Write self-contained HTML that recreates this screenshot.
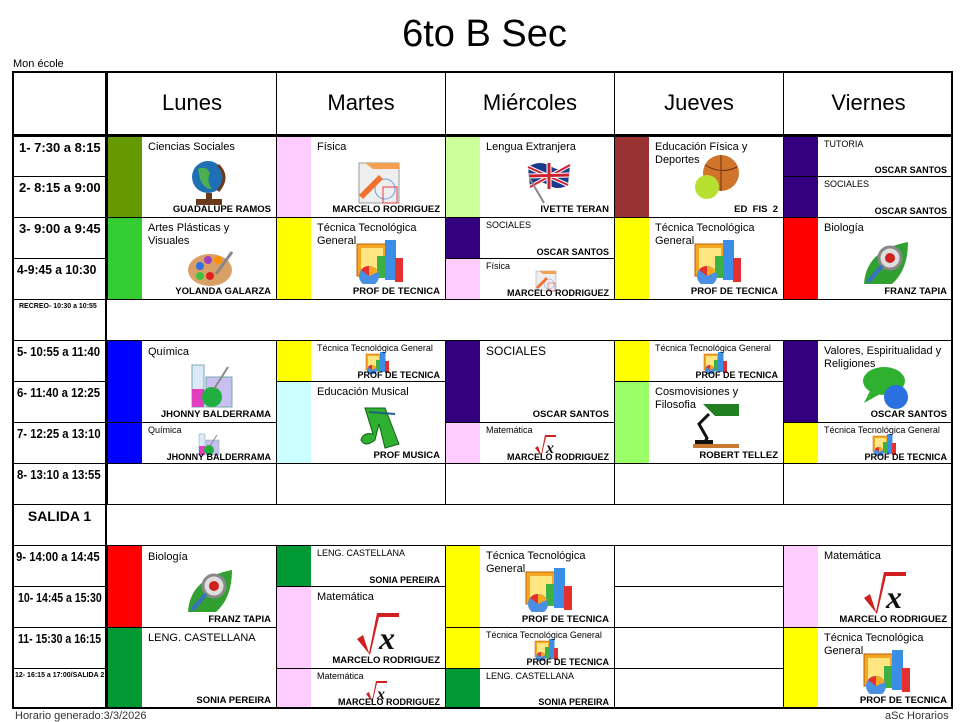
<!DOCTYPE html>
<html><head><meta charset="utf-8">
<style>
body{margin:0;width:969px;height:715px;background:#fff;position:relative;overflow:hidden;font-family:"Liberation Sans",Arial,sans-serif;color:#000}
.a{position:absolute}
.b{position:absolute;border:1px solid #000;box-sizing:border-box;background:#fff;overflow:hidden}
.bar{position:absolute;left:0;top:0;bottom:0;width:34px}
.t{position:absolute;left:40px;top:4px;font-size:11px;line-height:13px;right:4px;z-index:1}
.n{position:absolute;right:5px;bottom:2px;font-size:9.5px;font-weight:bold;white-space:nowrap;z-index:2}
.ic{position:absolute;left:78px;top:22px;width:48px;height:46px}
.s .t{font-size:9px;top:2px;line-height:11px}
.s .n{font-size:9px;bottom:1px}
.s .ic{left:88px;top:10px;width:24px;height:23px}
.tm{position:absolute;left:12px;width:95px;box-sizing:border-box;border-top:1px solid #000;font-weight:bold;font-size:13px;padding:3px 0 0 7px;white-space:nowrap;overflow:hidden}
.tm span{display:inline-block;transform-origin:left center}
.day{position:absolute;top:72px;height:64px;line-height:62px;text-align:center;font-size:22px;border-left:1px solid #000;box-sizing:border-box}
</style></head><body>
<svg width="0" height="0" style="position:absolute">
<defs>
<symbol id="chart" viewBox="0 0 48 46"><rect x="2" y="6" width="30" height="32" fill="#f5a623" stroke="#b86000"/><rect x="6" y="10" width="22" height="24" fill="#ffe680"/><rect x="22" y="18" width="9" height="22" fill="#3cb043"/><rect x="30" y="2" width="11" height="40" fill="#3a8ee6"/><rect x="40" y="20" width="8" height="24" fill="#e53030"/><circle cx="14" cy="38" r="10" fill="#4a90e2"/><path d="M14 38 L14 28 A10 10 0 0 1 23 34 Z" fill="#f5a623"/><path d="M14 38 L6 32 A10 10 0 0 1 14 28 Z" fill="#e53030"/></symbol>
<symbol id="globe" viewBox="0 0 48 46"><circle cx="22" cy="18" r="16" fill="#1f6fb5"/><path d="M12 10 Q20 6 24 14 Q20 22 26 30 Q18 30 14 20 Z" fill="#4caf50"/><path d="M32 6 Q44 18 32 32" stroke="#6b3a1a" stroke-width="3" fill="none"/><rect x="20" y="34" width="6" height="6" fill="#6b3a1a"/><rect x="10" y="40" width="26" height="6" fill="#6b3a1a"/></symbol>
<symbol id="phys" viewBox="0 0 48 46"><rect x="4" y="4" width="40" height="40" fill="#eee" stroke="#999"/><path d="M10 4 L44 4 L44 10 L18 10 Z" fill="#f5a050"/><circle cx="30" cy="30" r="10" fill="none" stroke="#6aa0e0"/><rect x="28" y="28" width="14" height="16" fill="none" stroke="#e04040"/><path d="M4 36 L24 16 L28 20 L8 40 Z" fill="#f07030"/></symbol>
<symbol id="pal" viewBox="0 0 48 46"><ellipse cx="24" cy="26" rx="22" ry="16" fill="#d9a066"/><circle cx="14" cy="22" r="4" fill="#3070e0"/><circle cx="22" cy="16" r="4" fill="#a040c0"/><circle cx="32" cy="16" r="4" fill="#ff9000"/><circle cx="14" cy="32" r="4" fill="#40c040"/><circle cx="24" cy="32" r="4" fill="#e02020"/><path d="M30 30 L46 8" stroke="#888" stroke-width="3"/></symbol>
<symbol id="flask" viewBox="0 0 48 46"><rect x="6" y="2" width="12" height="42" fill="#dde8f8" stroke="#7aa"/><rect x="6" y="26" width="12" height="18" fill="#e040c0"/><rect x="20" y="14" width="26" height="30" fill="#c8c0f0" stroke="#7aa"/><circle cx="26" cy="34" r="10" fill="#20b040"/><path d="M28 26 L42 4" stroke="#888" stroke-width="2"/></symbol>
<symbol id="bio" viewBox="0 0 48 46"><path d="M2 44 Q4 10 46 2 Q46 30 30 44 Z" fill="#30a030"/><circle cx="28" cy="18" r="11" fill="#ddd" stroke="#888" stroke-width="3"/><circle cx="28" cy="18" r="5" fill="#d02020"/><path d="M20 26 L6 42" stroke="#3a70c0" stroke-width="4"/></symbol>
<symbol id="flag" viewBox="0 0 48 46"><path d="M4 8 Q16 0 28 8 Q38 14 46 6 L44 26 Q34 32 24 26 Q14 20 6 28 Z" fill="#1a3a8a"/><path d="M4 8 L44 26 M46 6 L6 28" stroke="#fff" stroke-width="4"/><path d="M4 8 L44 26 M46 6 L6 28" stroke="#d02030" stroke-width="2"/><path d="M25 4 L25 30 M5 17 L45 16" stroke="#fff" stroke-width="5"/><path d="M25 4 L25 30 M5 17 L45 16" stroke="#d02030" stroke-width="3"/><path d="M6 20 L20 44" stroke="#888" stroke-width="2"/></symbol>
<symbol id="ball" viewBox="0 0 48 46"><circle cx="28" cy="18" r="18" fill="#d0742c"/><path d="M12 10 Q28 20 44 12 M28 0 L28 36" stroke="#6b3010" fill="none"/><circle cx="14" cy="32" r="12" fill="#b8e030"/></symbol>
<symbol id="math" viewBox="0 0 48 46"><path d="M2 30 L8 26 L14 44 L22 4 L44 4 L44 8 L24 8 L15 46 Z" fill="#d02020"/><text x="24" y="40" font-family="Liberation Serif,serif" font-style="italic" font-weight="bold" font-size="32" fill="#111">x</text></symbol>
<symbol id="music" viewBox="0 0 48 46"><path d="M10 4 L30 4 L44 40 L30 44 L24 20 L20 36 Q10 44 6 36 Q8 28 18 30 Z" fill="#30b030" stroke="#106010"/><path d="M14 8 L40 10" stroke="#206080" stroke-width="2"/></symbol>
<symbol id="lamp" viewBox="0 0 48 46"><path d="M10 2 L46 2 L46 14 L22 14 Z" fill="#208020"/><path d="M16 12 L6 22 L14 36 L12 40" stroke="#111" stroke-width="3" fill="none"/><rect x="2" y="38" width="18" height="4" fill="#111"/><rect x="0" y="42" width="46" height="4" fill="#c87830"/></symbol>
<symbol id="chat" viewBox="0 0 48 46"><ellipse cx="22" cy="16" rx="21" ry="14" fill="#30b030"/><path d="M8 26 L2 38 L20 28 Z" fill="#30b030"/><circle cx="34" cy="32" r="12" fill="#2a70e0"/></symbol>
</defs></svg>

<div class="a" style="left:0;top:12px;width:969px;text-align:center;font-size:38px;line-height:44px">6to B Sec</div>
<div class="a" style="left:13px;top:58px;font-size:11px">Mon école</div>

<div class="day" style="left:107px;width:169px">Lunes</div>
<div class="day" style="left:276px;width:169px">Martes</div>
<div class="day" style="left:445px;width:169px">Miércoles</div>
<div class="day" style="left:614px;width:169px">Jueves</div>
<div class="day" style="left:783px;width:170px">Viernes</div>

<div class="tm" style="top:136px;height:40px"><span>1- 7:30 a 8:15</span></div>
<div class="tm" style="top:176px;height:41px"><span>2- 8:15 a 9:00</span></div>
<div class="tm" style="top:217px;height:41px"><span>3- 9:00 a 9:45</span></div>
<div class="tm" style="top:258px;height:41px;padding-left:5px"><span style="transform:scaleX(.93)">4-9:45 a 10:30</span></div>
<div class="tm" style="top:299px;height:41px;font-size:7px;padding-top:3px;padding-left:7px">RECREO- 10:30 a 10:55</div>
<div class="tm" style="top:340px;height:41px;padding-left:5px"><span style="transform:scaleX(.87)">5- 10:55 a 11:40</span></div>
<div class="tm" style="top:381px;height:41px;padding-left:5px"><span style="transform:scaleX(.87)">6- 11:40 a 12:25</span></div>
<div class="tm" style="top:422px;height:41px;padding-left:5px"><span style="transform:scaleX(.87)">7- 12:25 a 13:10</span></div>
<div class="tm" style="top:463px;height:41px;padding-left:5px"><span style="transform:scaleX(.87)">8- 13:10 a 13:55</span></div>
<div class="tm" style="top:504px;height:41px;font-size:14px;text-align:center;padding-left:0">SALIDA 1</div>
<div class="tm" style="top:545px;height:41px;padding-left:4px"><span style="transform:scaleX(.87)">9- 14:00 a 14:45</span></div>
<div class="tm" style="top:586px;height:41px;padding-left:6px"><span style="transform:scaleX(.81)">10- 14:45 a 15:30</span></div>
<div class="tm" style="top:627px;height:41px;padding-left:6px"><span style="transform:scaleX(.81)">11- 15:30 a 16:15</span></div>
<div class="tm" style="top:668px;height:41px;font-size:7px;padding-left:3px">12- 16:15 a 17:00/SALIDA 2</div>

<div class="b" style="left:106px;top:299px;width:847px;height:42px"></div>
<div class="b" style="left:106px;top:504px;width:847px;height:42px"></div>

<!-- LUNES -->
<div class="b" style="left:107px;top:136px;width:170px;height:82px"><div class="bar" style="background:#669900"></div><div class="t">Ciencias Sociales</div><svg class="ic"><use href="#globe"/></svg><div class="n">GUADALUPE RAMOS</div></div>
<div class="b" style="left:107px;top:217px;width:170px;height:83px"><div class="bar" style="background:#33cc33"></div><div class="t">Artes Plásticas y<br>Visuales</div><svg class="ic" style="top:26px"><use href="#pal"/></svg><div class="n">YOLANDA GALARZA</div></div>
<div class="b" style="left:107px;top:340px;width:170px;height:83px"><div class="bar" style="background:#0000ff"></div><div class="t" style="top:5px">Química</div><svg class="ic"><use href="#flask"/></svg><div class="n">JHONNY BALDERRAMA</div></div>
<div class="b s" style="left:107px;top:422px;width:170px;height:42px"><div class="bar" style="background:#0000ff"></div><div class="t">Química</div><svg class="ic"><use href="#flask"/></svg><div class="n">JHONNY BALDERRAMA</div></div>
<div class="b" style="left:107px;top:463px;width:170px;height:42px"></div>
<div class="b" style="left:107px;top:545px;width:170px;height:83px"><div class="bar" style="background:#ff0000"></div><div class="t" style="top:5px">Biología</div><svg class="ic"><use href="#bio"/></svg><div class="n">FRANZ TAPIA</div></div>
<div class="b" style="left:107px;top:627px;width:170px;height:82px"><div class="bar" style="background:#009933"></div><div class="t" style="top:4px">LENG. CASTELLANA</div><div class="n">SONIA PEREIRA</div></div>

<!-- MARTES -->
<div class="b" style="left:276px;top:136px;width:170px;height:82px"><div class="bar" style="background:#ffccff"></div><div class="t">Física</div><svg class="ic"><use href="#phys"/></svg><div class="n">MARCELO RODRIGUEZ</div></div>
<div class="b" style="left:276px;top:217px;width:170px;height:83px"><div class="bar" style="background:#ffff00"></div><div class="t">Técnica Tecnológica<br>General</div><svg class="ic" style="top:20px"><use href="#chart"/></svg><div class="n">PROF DE TECNICA</div></div>
<div class="b s" style="left:276px;top:340px;width:170px;height:42px"><div class="bar" style="background:#ffff00"></div><div class="t">Técnica Tecnológica General</div><svg class="ic"><use href="#chart"/></svg><div class="n">PROF DE TECNICA</div></div>
<div class="b" style="left:276px;top:381px;width:170px;height:83px"><div class="bar" style="background:#ccffff"></div><div class="t">Educación Musical</div><svg class="ic"><use href="#music"/></svg><div class="n">PROF MUSICA</div></div>
<div class="b" style="left:276px;top:463px;width:170px;height:42px"></div>
<div class="b s" style="left:276px;top:545px;width:170px;height:42px"><div class="bar" style="background:#009933"></div><div class="t">LENG. CASTELLANA</div><div class="n">SONIA PEREIRA</div></div>
<div class="b" style="left:276px;top:586px;width:170px;height:83px"><div class="bar" style="background:#ffccff"></div><div class="t">Matemática</div><svg class="ic"><use href="#math"/></svg><div class="n">MARCELO RODRIGUEZ</div></div>
<div class="b s" style="left:276px;top:668px;width:170px;height:41px"><div class="bar" style="background:#ffccff"></div><div class="t">Matemática</div><svg class="ic"><use href="#math"/></svg><div class="n">MARCELO RODRIGUEZ</div></div>

<!-- MIERCOLES -->
<div class="b" style="left:445px;top:136px;width:170px;height:82px"><div class="bar" style="background:#ccff99"></div><div class="t">Lengua Extranjera</div><svg class="ic" style="left:78px"><use href="#flag"/></svg><div class="n">IVETTE TERAN</div></div>
<div class="b s" style="left:445px;top:217px;width:170px;height:42px"><div class="bar" style="background:#330080"></div><div class="t">SOCIALES</div><div class="n">OSCAR SANTOS</div></div>
<div class="b s" style="left:445px;top:258px;width:170px;height:42px"><div class="bar" style="background:#ffccff"></div><div class="t">Física</div><svg class="ic"><use href="#phys"/></svg><div class="n">MARCELO RODRIGUEZ</div></div>
<div class="b" style="left:445px;top:340px;width:170px;height:83px"><div class="bar" style="background:#330080"></div><div class="t" style="font-size:12px">SOCIALES</div><div class="n">OSCAR SANTOS</div></div>
<div class="b s" style="left:445px;top:422px;width:170px;height:42px"><div class="bar" style="background:#ffccff"></div><div class="t">Matemática</div><svg class="ic"><use href="#math"/></svg><div class="n">MARCELO RODRIGUEZ</div></div>
<div class="b" style="left:445px;top:463px;width:170px;height:42px"></div>
<div class="b" style="left:445px;top:545px;width:170px;height:83px"><div class="bar" style="background:#ffff00"></div><div class="t">Técnica Tecnológica<br>General</div><svg class="ic" style="top:20px"><use href="#chart"/></svg><div class="n">PROF DE TECNICA</div></div>
<div class="b s" style="left:445px;top:627px;width:170px;height:42px"><div class="bar" style="background:#ffff00"></div><div class="t">Técnica Tecnológica General</div><svg class="ic"><use href="#chart"/></svg><div class="n">PROF DE TECNICA</div></div>
<div class="b s" style="left:445px;top:668px;width:170px;height:41px"><div class="bar" style="background:#009933"></div><div class="t">LENG. CASTELLANA</div><div class="n">SONIA PEREIRA</div></div>

<!-- JUEVES -->
<div class="b" style="left:614px;top:136px;width:170px;height:82px"><div class="bar" style="background:#993333"></div><div class="t">Educación Física y<br>Deportes</div><svg class="ic" style="top:18px"><use href="#ball"/></svg><div class="n">ED &nbsp;FIS &nbsp;2</div></div>
<div class="b" style="left:614px;top:217px;width:170px;height:83px"><div class="bar" style="background:#ffff00"></div><div class="t">Técnica Tecnológica<br>General</div><svg class="ic" style="top:20px"><use href="#chart"/></svg><div class="n">PROF DE TECNICA</div></div>
<div class="b s" style="left:614px;top:340px;width:170px;height:42px"><div class="bar" style="background:#ffff00"></div><div class="t">Técnica Tecnológica General</div><svg class="ic"><use href="#chart"/></svg><div class="n">PROF DE TECNICA</div></div>
<div class="b" style="left:614px;top:381px;width:170px;height:83px"><div class="bar" style="background:#99ff66"></div><div class="t">Cosmovisiones y<br>Filosofia</div><svg class="ic" style="top:20px"><use href="#lamp"/></svg><div class="n">ROBERT TELLEZ</div></div>
<div class="b" style="left:614px;top:463px;width:170px;height:42px"></div>
<div class="b" style="left:614px;top:545px;width:170px;height:42px"></div>
<div class="b" style="left:614px;top:586px;width:170px;height:42px"></div>
<div class="b" style="left:614px;top:627px;width:170px;height:42px"></div>
<div class="b" style="left:614px;top:668px;width:170px;height:41px"></div>

<!-- VIERNES -->
<div class="b s" style="left:783px;top:136px;width:170px;height:41px"><div class="bar" style="background:#330080"></div><div class="t">TUTORIA</div><div class="n">OSCAR SANTOS</div></div>
<div class="b s" style="left:783px;top:176px;width:170px;height:42px"><div class="bar" style="background:#330080"></div><div class="t">SOCIALES</div><div class="n">OSCAR SANTOS</div></div>
<div class="b" style="left:783px;top:217px;width:170px;height:83px"><div class="bar" style="background:#ff0000"></div><div class="t">Biología</div><svg class="ic"><use href="#bio"/></svg><div class="n">FRANZ TAPIA</div></div>
<div class="b" style="left:783px;top:340px;width:170px;height:83px"><div class="bar" style="background:#330080"></div><div class="t">Valores, Espiritualidad y<br>Religiones</div><svg class="ic" style="top:24px"><use href="#chat"/></svg><div class="n">OSCAR SANTOS</div></div>
<div class="b s" style="left:783px;top:422px;width:170px;height:42px"><div class="bar" style="background:#ffff00"></div><div class="t">Técnica Tecnológica General</div><svg class="ic"><use href="#chart"/></svg><div class="n">PROF DE TECNICA</div></div>
<div class="b" style="left:783px;top:463px;width:170px;height:42px"></div>
<div class="b" style="left:783px;top:545px;width:170px;height:83px"><div class="bar" style="background:#ffccff"></div><div class="t">Matemática</div><svg class="ic"><use href="#math"/></svg><div class="n">MARCELO RODRIGUEZ</div></div>
<div class="b" style="left:783px;top:627px;width:170px;height:82px"><div class="bar" style="background:#ffff00"></div><div class="t">Técnica Tecnológica<br>General</div><svg class="ic" style="top:20px"><use href="#chart"/></svg><div class="n">PROF DE TECNICA</div></div>

<div class="a" style="left:12px;top:71px;width:941px;height:638px;border:2px solid #000;box-sizing:border-box"></div>
<div class="a" style="left:12px;top:134px;width:941px;height:2px;background:#000"></div>
<div class="a" style="left:105px;top:71px;width:2px;height:638px;background:#000"></div>

<div class="a" style="left:15px;top:710px;font-size:11px;color:#333">Horario generado:3/3/2026</div>
<div class="a" style="left:885px;top:710px;font-size:11px;color:#333">aSc Horarios</div>
</body></html>
